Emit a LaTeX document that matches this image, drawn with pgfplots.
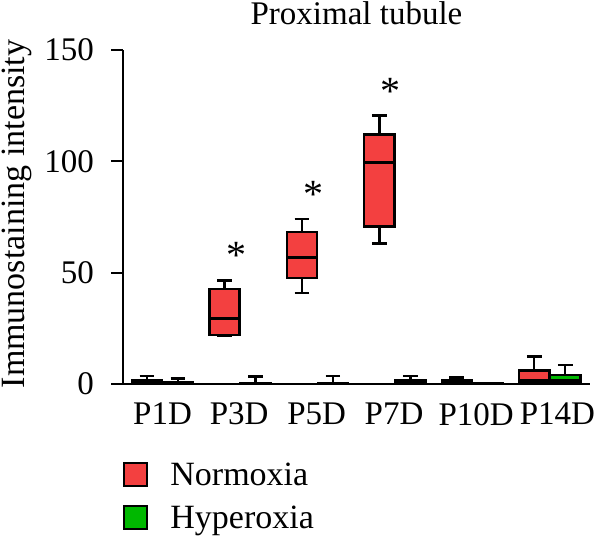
\documentclass[border=0pt]{standalone}
\usepackage{fontspec}
\setmainfont{Liberation Serif}
\usepackage{pgfplots}
\pgfplotsset{compat=1.18}
\usepgfplotslibrary{statistics}

\definecolor{nred}{RGB}{243,64,64}
\definecolor{hgreen}{RGB}{0,184,0}

\pgfplotsset{
  nbox/.style={draw=black, fill=nred, line width=1.2pt, solid},
  hbox/.style={draw=black, fill=hgreen, line width=1.2pt, solid},
}

% draw position, lower whisker, lower quartile, median, upper quartile, upper whisker, style
\newcommand{\bx}[7]{%
  \addplot[#7, boxplot prepared={draw position=#1, lower whisker=#2,
    lower quartile=#3, median=#4, upper quartile=#5, upper whisker=#6,
    box extend=0.39, whisker extend=0.19,
    every median/.style={line width=1.4pt}}] coordinates {};}

\begin{document}
\begin{tikzpicture}
\useasboundingbox (0,0) rectangle (300pt,268.5pt);
\begin{axis}[
  at={(61.5pt,76.5pt)}, anchor=south west,
  scale only axis, width=233.5pt, height=167pt,
  xmin=-0.51, xmax=5.52, ymin=0, ymax=150,
  axis x line=bottom, axis y line=left,
  axis line style={-, line width=1.1pt},
  boxplot/draw direction=y,
  xtick={0,0.99,1.99,2.99,4.05,5.1},
  xticklabels={P1D,P3D,P5D,P7D,P10D,P14D},
  xtick style={draw=none},
  ytick={0,50,100,150},
  tick align=outside, major tick length=6pt,
  ytick style={line width=1.1pt, black},
  /pgf/number format/assume math mode=true,
  yticklabel style={font=\fontsize{16.5}{19}\selectfont, xshift=-5pt},
  xticklabel style={font=\fontsize{16.5}{19}\selectfont, yshift=0pt},
  clip=false,
]
% Normoxia
\bx{-0.2}{0}{0.3}{0.8}{1.5}{3.7}{nbox}
\bx{0.8}{21.7}{22.0}{29.4}{42.6}{46.4}{nbox}
\bx{1.8}{40.8}{47.5}{56.8}{68.2}{74.2}{nbox}
\bx{2.8}{63.1}{70.7}{99.5}{112.1}{120.5}{nbox}
\bx{3.8}{0}{0.3}{1.0}{1.8}{3.0}{nbox}
\bx{4.8}{0.3}{0.6}{1.8}{6.0}{12.3}{nbox}
% Hyperoxia
\bx{0.2}{0}{0.2}{0.5}{1.0}{2.5}{hbox}
\bx{1.2}{0}{0}{0.1}{0.3}{3.3}{hbox}
\bx{2.2}{0}{0}{0.1}{0.3}{3.5}{hbox}
\bx{3.2}{0}{0.3}{0.8}{1.5}{3.5}{hbox}
\bx{4.2}{0}{0}{0.1}{0.2}{0.3}{hbox}
\bx{5.2}{0.3}{0.5}{1.6}{4.0}{8.5}{hbox}
% significance marks
\node[font=\fontsize{20}{24}\selectfont, inner sep=0pt, anchor=center, yshift=-4pt] at (axis cs:0.96,61.2) {*};
\node[font=\fontsize{20}{24}\selectfont, inner sep=0pt, anchor=center, yshift=-4pt] at (axis cs:1.95,88.7) {*};
\node[font=\fontsize{20}{24}\selectfont, inner sep=0pt, anchor=center, yshift=-4pt] at (axis cs:2.94,134.9) {*};
\end{axis}
% title and axis label
\node[anchor=base, inner sep=0pt, font=\fontsize{16.5}{19}\selectfont] at (178.25pt,256pt) {Proximal tubule};
\node[rotate=90, anchor=center, inner sep=0pt, font=\fontsize{17}{20}\selectfont] at (8.6pt,161.5pt) {Immunostaining intensity};
% legend
\draw[line width=1.2pt, fill=nred] (62pt,25.5pt) rectangle (73.5pt,37pt);
\draw[line width=1.2pt, fill=hgreen] (62pt,4pt) rectangle (73.5pt,15.5pt);
\node[anchor=base west, inner sep=0pt, font=\fontsize{17}{20}\selectfont] at (85pt,26pt) {Normoxia};
\node[anchor=base west, inner sep=0pt, font=\fontsize{17}{20}\selectfont] at (85pt,4.5pt) {Hyperoxia};
\end{tikzpicture}
\end{document}
